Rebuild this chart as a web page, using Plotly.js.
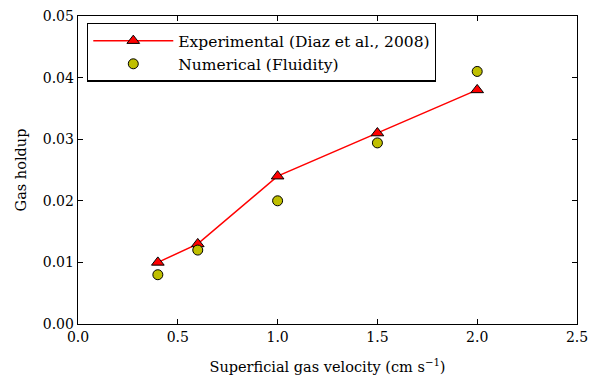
<!DOCTYPE html>
<html>
<head>
<meta charset="utf-8">
<script src="https://cdn.plot.ly/plotly-3.0.1.min.js"></script>
<style>html,body{margin:0;padding:0;background:#fff;}#chart{width:603px;height:380px;}</style>
</head>
<body>
<div id="chart"></div>
<script>
const velocity = [0.4, 0.6, 1.0, 1.5, 2.0];
const experimental = [0.010, 0.013, 0.024, 0.031, 0.038];
const numerical = [0.008, 0.012, 0.020, 0.0294, 0.041];
const xTicks = [0.0, 0.5, 1.0, 1.5, 2.0, 2.5];
const yTicks = [0.00, 0.01, 0.02, 0.03, 0.04, 0.05];

const font = "DejaVu Serif, Liberation Serif, serif";

const traces = [
  {
    x: velocity, y: experimental, name: "Experimental (Diaz et al., 2008)",
    mode: "lines+markers", type: "scatter",
    line: {color: "#ff0000", width: 1.5},
    marker: {symbol: "triangle-up", size: 11, color: "#ff0000", line: {color: "#000", width: 1}}
  },
  {
    x: velocity, y: numerical, name: "Numerical (Fluidity)",
    mode: "markers", type: "scatter",
    marker: {symbol: "circle", size: 10, color: "#bfbf00", line: {color: "#000", width: 1}}
  }
];

const axisCommon = {
  showgrid: false, zeroline: false, showline: true, mirror: "allticks",
  linecolor: "#000", linewidth: 1.3, ticks: "inside", ticklen: 5, tickwidth: 1,
  tickcolor: "#000", tickfont: {family: font, size: 14, color: "#000"}
};

const layout = {
  width: 603, height: 380,
  margin: {l: 78, r: 26, t: 16, b: 56},
  paper_bgcolor: "#fff", plot_bgcolor: "#fff",
  font: {family: font, color: "#000"},
  xaxis: Object.assign({}, axisCommon, {
    range: [0, 2.5], tickvals: xTicks, tickformat: ".1f",
    title: {text: "Superficial gas velocity (cm s<sup>\u22121</sup>)", font: {family: font, size: 14.5}, standoff: 17}
  }),
  yaxis: Object.assign({}, axisCommon, {
    range: [0, 0.05], tickvals: yTicks, tickformat: ".2f",
    title: {text: "Gas holdup", font: {family: font, size: 14.5}, standoff: 12}
  }),
  legend: {
    x: 0.018, y: 0.978, xanchor: "left", yanchor: "top",
    bordercolor: "#000", borderwidth: 1.3, bgcolor: "#fff",
    font: {family: font, size: 15.5, color: "#000"},
    tracegroupgap: 0, itemwidth: 80
  },
  showlegend: true
};

Plotly.newPlot("chart", traces, layout, {displayModeBar: false, staticPlot: true});
</script>
</body>
</html>
